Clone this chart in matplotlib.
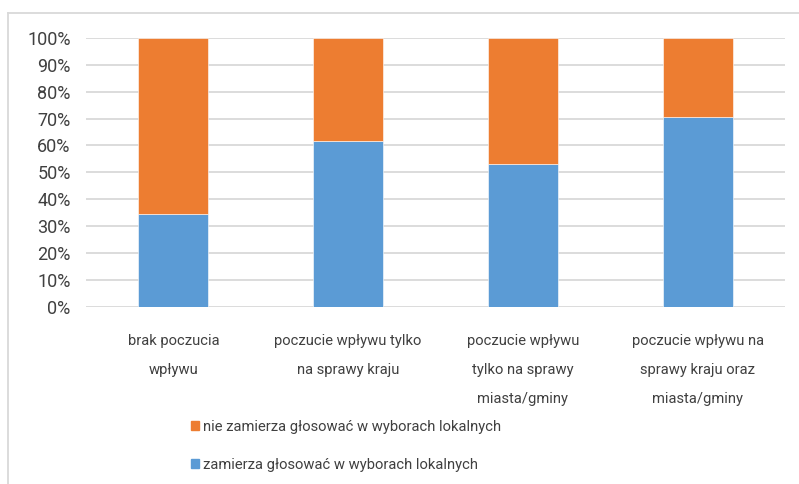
import numpy as np
import matplotlib
matplotlib.use("Agg")
import matplotlib.pyplot as plt
from matplotlib.lines import Line2D
from matplotlib.patches import Patch

plt.rcParams['font.family'] = ['Roboto', 'DejaVu Sans']

# dane
categories = ["brak poczucia\nwpływu",
              "poczucie wpływu tylko\nna sprawy kraju",
              "poczucie wpływu\ntylko na sprawy\nmiasta/gminy",
              "poczucie wpływu na\nsprawy kraju oraz\nmiasta/gminy"]
zamierza = [34.5, 61.5, 53.0, 70.4]
nie_zamierza = [65.5, 38.5, 47.0, 29.6]
series_names = ["zamierza głosować w wyborach lokalnych",
                "nie zamierza głosować w wyborach lokalnych"]
yticks = [0, 10, 20, 30, 40, 50, 60, 70, 80, 90, 100]

blue = "#5b9bd5"
orange = "#ed7d31"
grid = "#d9d9d9"
txt = "#404040"

fig = plt.figure(figsize=(7.99, 4.84), dpi=100)
ax = fig.add_axes([86/799, 1-307.3/484, 699/799, 269.7/484])

x = np.arange(len(categories))
ax.bar(x, zamierza, width=0.4, color=blue, edgecolor="white", linewidth=0.4, zorder=3)
ax.bar(x, nie_zamierza, width=0.4, bottom=zamierza, color=orange,
       edgecolor="white", linewidth=0.4, zorder=3)

ax.set_xlim(-0.5, 3.5)
ax.set_ylim(0, 100)
ax.set_yticks(yticks)
ax.set_yticklabels([f"{v}%" for v in yticks], fontsize=13, color=txt)
ax.yaxis.grid(True, color=grid, linewidth=1.3, zorder=0)
ax.tick_params(axis='both', length=0)
ax.tick_params(axis='y', pad=11)
for s in ax.spines.values():
    s.set_visible(False)
ax.set_xticks(x)
ax.set_xticklabels([])
for i, c in enumerate(categories):
    ax.text(i, -10.0, c, ha='center', va='top', fontsize=10.6, color=txt,
            linespacing=2.35, transform=ax.transData)

# legenda
handles = [Patch(color=orange), Patch(color=blue)]
fig.legend(handles, [series_names[1], series_names[0]], loc='upper left',
           bbox_to_anchor=(191/799, 1-420/484), frameon=False, fontsize=10.6,
           labelcolor=txt, handlelength=0.55, handleheight=0.55, handletextpad=0.25,
           labelspacing=1.6, borderpad=0, borderaxespad=0)

# ramka wykresu
fig.add_artist(Line2D([8/799, 8/799], [0, 1-13/484], color=grid, linewidth=1.3,
                      transform=fig.transFigure))
fig.add_artist(Line2D([8/799, 1], [1-13/484, 1-13/484], color=grid, linewidth=1.3,
                      transform=fig.transFigure))

fig.savefig("out.png", dpi=100)
